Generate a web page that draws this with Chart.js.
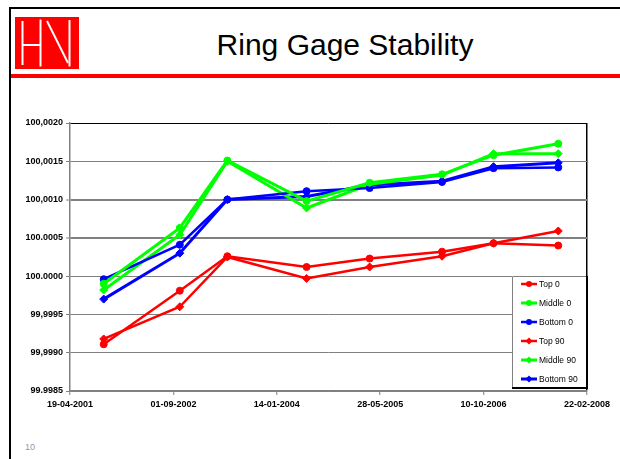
<!DOCTYPE html>
<html>
<head>
<meta charset="utf-8">
<script src="https://cdn.jsdelivr.net/npm/chart.js@4.4.1/dist/chart.umd.min.js"></script>
<style>
  html, body { margin: 0; padding: 0; background: #fff; }
  body { width: 620px; height: 459px; position: relative; overflow: hidden; font-family: "Liberation Sans", Arial, sans-serif; }
  #frame { position: absolute; left: 9px; top: 7px; width: 620px; height: 460px; border-top: 2px solid #000; border-left: 2px solid #000; }
  #redbar { position: absolute; left: 11px; top: 74px; width: 609px; height: 4px; background: #ff0000; }
  #logo { position: absolute; left: 15px; top: 17px; }
  #title { position: absolute; left: 195px; width: 300px; top: 30px; font-size: 30px; line-height: 30px; text-align: center; color: #000; }
  #pagenum { position: absolute; left: 25px; top: 442px; font-size: 9px; color: #999; }
  #chart { position: absolute; left: 0; top: 0; }
</style>
</head>
<body>
<div id="frame"></div>
<svg id="logo" width="64" height="52" viewBox="0 0 64 52">
  <rect width="64" height="52" fill="#ff0000"/>
  <g stroke="#fff" stroke-width="2" fill="none">
    <line x1="7.5" y1="4" x2="7.5" y2="48"/>
    <line x1="7.5" y1="28" x2="25" y2="28"/>
    <line x1="25.5" y1="2.5" x2="25.5" y2="49.5"/>
    <line x1="32" y1="4" x2="53" y2="46"/>
    <line x1="54.5" y1="3" x2="54.5" y2="49.5"/>
  </g>
</svg>
<div id="redbar"></div>
<div id="title">Ring Gage Stability</div>
<div id="pagenum">10</div>
<canvas id="chart" width="620" height="459"></canvas>
<script>
// measurement dates (dd-mm-yyyy)
const measureDates = ['29-09-2001', '02-10-2002', '20-05-2003', '06-06-2004', '07-04-2005', '23-03-2006', '27-11-2006', '06-10-2007'];

// series values
const top0     = [99.99911, 99.99981, 100.00026, 100.00012, 100.00023, 100.00032, 100.00043, 100.00040];
const middle0  = [99.99990, 100.00063, 100.00151, 100.00098, 100.00122, 100.00133, 100.00158, 100.00173];
const bottom0  = [99.99996, 100.00041, 100.00100, 100.00111, 100.00115, 100.00123, 100.00141, 100.00142];
const top90    = [99.99918, 99.99960, 100.00025, 99.99997, 100.00012, 100.00026, 100.00043, 100.00059];
const middle90 = [99.99982, 100.00054, 100.00150, 100.00089, 100.00120, 100.00132, 100.00160, 100.00160];
const bottom90 = [99.99970, 100.00030, 100.00100, 100.00104, 100.00119, 100.00124, 100.00143, 100.00148];

// axis ticks
const xTickLabels = ['19-04-2001', '01-09-2002', '14-01-2004', '28-05-2005', '10-10-2006', '22-02-2008'];
const yTicks      = [99.9985, 99.9990, 99.9995, 100.0000, 100.0005, 100.0010, 100.0015, 100.0020];
const yTickLabels = ['99.9985', '99,9990', '99,9995', '100.0000', '100.0005', '100,0010', '100,0015', '100,0020'];

// days since the first x tick
function toDays(s) {
    var p = s.split('-');
    return Date.UTC(+p[2], +p[1] - 1, +p[0]) / 86400000;
}
const day0 = toDays(xTickLabels[0]);
function xPos(s) { return toDays(s) - day0; }

function points(values) {
    return values.map(function (v, i) { return { x: xPos(measureDates[i]), y: v }; });
}

function series(label, values, color, style, width) {
    return {
        label: label,
        data: points(values),
        borderColor: color,
        backgroundColor: color,
        borderWidth: width,
        pointStyle: style,
        pointRadius: style === 'circle' ? 3.5 : 4,
        pointBorderWidth: 1,
        fill: false,
        tension: 0
    };
}

// legend box inside the plot, bottom-right corner
const boxLegend = {
    id: 'boxLegend',
    afterDraw: function (chart) {
        var ctx = chart.ctx, area = chart.chartArea;
        var w = 75, h = 112;
        var right = area.right, bottom = area.bottom - 3;
        var left = right - w, top = bottom - h;
        ctx.save();
        ctx.fillStyle = '#fff';
        ctx.fillRect(left, top, w, h);
        ctx.lineWidth = 1;
        ctx.strokeStyle = '#808080';
        ctx.beginPath();
        ctx.moveTo(left + 0.5, bottom);
        ctx.lineTo(left + 0.5, top + 0.5);
        ctx.lineTo(right, top + 0.5);
        ctx.stroke();
        ctx.strokeStyle = '#000';
        ctx.lineWidth = 2;
        ctx.beginPath();
        ctx.moveTo(right, top);
        ctx.lineTo(right, bottom);
        ctx.lineTo(left, bottom);
        ctx.stroke();

        ctx.font = '8.5px "Liberation Sans", Arial, sans-serif';
        ctx.textBaseline = 'middle';
        chart.data.datasets.forEach(function (ds, i) {
            var y = top + 8 + i * 19;
            var mx = left + 17;
            ctx.strokeStyle = ds.borderColor;
            ctx.fillStyle = ds.borderColor;
            ctx.lineWidth = ds.borderWidth;
            ctx.beginPath();
            ctx.moveTo(left + 9, y);
            ctx.lineTo(left + 25, y);
            ctx.stroke();
            ctx.beginPath();
            if (ds.pointStyle === 'circle') {
                ctx.arc(mx, y, 3, 0, Math.PI * 2);
            } else {
                ctx.moveTo(mx, y - 3.5);
                ctx.lineTo(mx + 3.5, y);
                ctx.lineTo(mx, y + 3.5);
                ctx.lineTo(mx - 3.5, y);
                ctx.closePath();
            }
            ctx.fill();
            ctx.fillStyle = '#000';
            ctx.fillText(ds.label, left + 27, y + 0.5);
        });
        ctx.restore();
    }
};

const tickFont = { family: '"Liberation Sans", Arial, sans-serif', size: 9, weight: 'bold' };

new Chart(document.getElementById('chart').getContext('2d'), {
    type: 'line',
    data: {
        datasets: [
            series('Top 0', top0, '#ff0000', 'circle', 2.5),
            series('Middle 0', middle0, '#00ff00', 'circle', 3),
            series('Bottom 0', bottom0, '#0000ff', 'circle', 2.5),
            series('Top 90', top90, '#ff0000', 'rectRot', 2.5),
            series('Middle 90', middle90, '#00ff00', 'rectRot', 3),
            series('Bottom 90', bottom90, '#0000ff', 'rectRot', 3)
        ]
    },
    options: {
        responsive: false,
        animation: false,
        devicePixelRatio: 1,
        layout: { padding: { top: 123, right: 33, bottom: 0, left: 0 } },
        plugins: {
            legend: { display: false },
            tooltip: { enabled: false }
        },
        scales: {
            x: {
                type: 'linear',
                min: 0,
                max: xPos(xTickLabels[xTickLabels.length - 1]),
                afterBuildTicks: function (scale) {
                    scale.ticks = xTickLabels.map(function (s) { return { value: xPos(s) }; });
                },
                afterFit: function (scale) { scale.height = 68; },
                ticks: {
                    autoSkip: false,
                    maxRotation: 0,
                    padding: 4,
                    color: '#000',
                    font: tickFont,
                    callback: function (value, index) { return xTickLabels[index]; }
                },
                grid: {
                    color: function (c) { return c.index === xTickLabels.length - 1 ? '#000' : 'rgba(0,0,0,0)'; },
                    lineWidth: 1.5,
                    tickColor: '#808080',
                    tickWidth: 1,
                    tickLength: 4
                },
                border: { color: '#808080', width: 1.5 }
            },
            y: {
                min: yTicks[0],
                max: yTicks[yTicks.length - 1],
                afterBuildTicks: function (scale) {
                    scale.ticks = yTicks.map(function (v) { return { value: v }; });
                },
                afterFit: function (scale) { scale.width = 70; },
                ticks: {
                    padding: 3,
                    color: '#000',
                    font: tickFont,
                    callback: function (value, index) { return yTickLabels[index]; }
                },
                grid: {
                    color: function (c) { return c.index === yTicks.length - 1 ? '#000' : '#808080'; },
                    lineWidth: function (c) { return (c.index === 4 || c.index === 5) ? 2 : 1; },
                    tickColor: '#808080',
                    tickWidth: 1,
                    tickLength: 4
                },
                border: { color: '#808080', width: 1.5 }
            }
        }
    },
    plugins: [boxLegend]
});
</script>
</body>
</html>
